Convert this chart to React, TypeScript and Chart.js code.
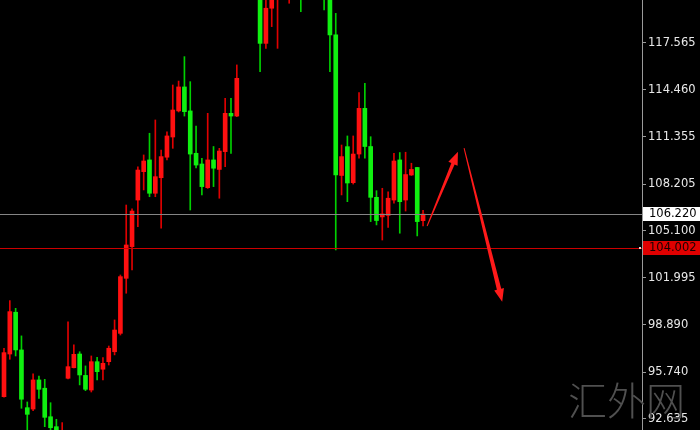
import React, { useEffect, useRef } from 'react';
import { Chart, registerables } from 'chart.js';

Chart.register(...registerables);

// OHLC per candle, oldest first (red = rising, green = falling)
const opens = [
  94.11, 96.94, 99.71, 97.21, 93.38, 93.29, 95.22, 94.67, 92.78, 92.12,
  90.91, 95.33, 96.03, 96.94, 95.52, 94.55, 96.43, 95.93, 96.43, 97.09,
  98.31, 101.96, 104.06, 107.15, 109.03, 109.81, 107.6, 108.63, 109.99, 111.33,
  113.06, 114.65, 113.06, 110.25, 109.54, 107.97, 109.81, 109.18, 110.36, 112.9,
  112.72, 120.8, 122.3, 122.9, 121.0, 117.54, 119.87, 120.7, 121.8, 120.9,
  122.0, 121.6, 120.7, 121.5, 120.9, 121.2, 120.6, 118.1, 108.78, 110.69,
  108.3, 110.2, 113.23, 110.7, 107.33, 106.03, 106.13, 107.15, 109.81, 107.15,
  108.81, 109.31, 105.78,
];
const highs = [
  97.32, 100.48, 99.97, 98.14, 93.76, 95.62, 95.48, 95.26, 93.71, 92.61,
  92.39, 99.08, 97.54, 97.09, 96.15, 96.81, 96.72, 96.71, 97.47, 99.2,
  102.18, 106.82, 106.56, 109.36, 110.14, 111.58, 112.46, 110.47, 111.68, 114.78,
  115.04, 116.66, 115.0, 112.06, 109.92, 112.9, 110.7, 110.58, 113.9, 113.9,
  116.11, 122.6, 123.4, 123.2, 121.5, 120.8, 121.4, 122.3, 122.8, 122.6,
  122.5, 122.0, 121.9, 121.8, 121.4, 121.6, 120.9, 119.53, 110.8, 111.4,
  111.4, 114.27, 114.89, 111.35, 107.77, 107.93, 107.7, 110.25, 110.3, 110.32,
  109.59, 109.32, 106.46,
];
const lows = [
  94.07, 96.59, 96.81, 93.34, 91.77, 93.18, 94.0, 92.12, 91.77, 90.84,
  90.71, 95.28, 96.01, 94.89, 94.51, 94.42, 95.22, 95.22, 96.21, 96.88,
  98.2, 100.97, 102.51, 105.38, 107.82, 107.37, 107.37, 105.28, 109.81, 110.58,
  112.99, 112.72, 106.49, 109.28, 107.49, 107.92, 108.04, 107.27, 109.36, 110.25,
  112.68, 120.6, 121.5, 121.2, 115.66, 117.21, 118.65, 117.21, 120.9, 120.2,
  120.8, 119.64, 120.5, 120.6, 120.55, 119.75, 115.66, 103.84, 107.49, 107.04,
  108.21, 109.92, 109.92, 105.72, 105.5, 104.5, 105.33, 106.95, 104.95, 106.42,
  108.78, 104.77, 105.43,
];
const closes = [
  97.03, 99.75, 97.21, 93.94, 92.94, 95.22, 94.6, 92.74, 92.05, 91.24,
  91.7, 96.1, 96.92, 95.55, 94.6, 96.43, 95.77, 96.32, 97.32, 98.53,
  102.07, 104.17, 106.42, 109.14, 109.74, 107.6, 108.7, 110.03, 111.4, 113.12,
  114.65, 113.01, 110.2, 109.47, 108.04, 109.81, 109.26, 110.4, 112.9, 112.72,
  115.22, 122.3, 122.9, 121.6, 117.54, 119.87, 120.9, 121.8, 122.4, 122.0,
  121.2, 120.7, 121.5, 120.9, 121.2, 120.6, 118.1, 108.81, 110.03, 108.28,
  110.2, 113.23, 110.7, 107.33, 105.79, 106.23, 107.27, 109.74, 107.04, 108.84,
  109.18, 105.72, 106.22,
];

// price axis labels
const priceTicks = [92.635, 95.74, 98.89, 101.995, 105.1, 108.205, 111.355, 114.46, 117.565];
const bidPrice = 106.22;
const levelPrice = 104.002;
const watermark = '汇外网';

// hand-drawn projection arrows, in (candle index, price)
const arrowFrom = [
  [72.7, 105.43],
  [79.05, 110.6],
];
const arrowTo = [
  [78.0, 110.35],
  [85.6, 100.4],
];

const Y_MIN = 91.9;
const Y_MAX = 120.416;
const X_MIN = -0.687;
const X_MAX = 109.62;
const AXIS_WIDTH = 58;

const UP = '#ff1010';
const DOWN = '#10f010';

const fmt = (v: number) => v.toFixed(3);

function drawArrow(
  ctx: CanvasRenderingContext2D,
  x0: number, y0: number, x1: number, y1: number,
  tailW: number, shaftW: number, headLen: number, headW: number,
) {
  const dx = x1 - x0;
  const dy = y1 - y0;
  const len = Math.hypot(dx, dy);
  const ux = dx / len;
  const uy = dy / len;
  const nx = -uy;
  const ny = ux;
  const bx = x1 - ux * headLen;
  const by = y1 - uy * headLen;
  ctx.beginPath();
  ctx.moveTo(x0 + nx * tailW / 2, y0 + ny * tailW / 2);
  ctx.lineTo(bx + nx * shaftW / 2, by + ny * shaftW / 2);
  ctx.lineTo(bx + nx * headW / 2, by + ny * headW / 2);
  ctx.lineTo(x1, y1);
  ctx.lineTo(bx - nx * headW / 2, by - ny * headW / 2);
  ctx.lineTo(bx - nx * shaftW / 2, by - ny * shaftW / 2);
  ctx.lineTo(x0 - nx * tailW / 2, y0 - ny * tailW / 2);
  ctx.closePath();
  ctx.fill();
}

const overlay = {
  id: 'overlay',
  beforeDraw(chart: any) {
    const { ctx, width, height } = chart;
    ctx.save();
    ctx.fillStyle = '#000000';
    ctx.fillRect(0, 0, width, height);
    ctx.restore();
  },
  afterDatasetsDraw(chart: any) {
    const { ctx, chartArea, scales } = chart;
    const xs = scales.x;
    const ys = scales.y;

    ctx.save();
    // watermark
    ctx.font = '300 39px "Noto Sans CJK SC"';
    ctx.fillStyle = '#505050';
    ctx.textAlign = 'left';
    ctx.textBaseline = 'middle';
    ctx.fillText(watermark, chartArea.right - 74, chartArea.bottom - 30);

    // bid line
    const yb = Math.round(ys.getPixelForValue(bidPrice)) + 0.5;
    ctx.strokeStyle = '#858585';
    ctx.lineWidth = 1;
    ctx.beginPath();
    ctx.moveTo(chartArea.left, yb);
    ctx.lineTo(chartArea.right, yb);
    ctx.stroke();

    // level line
    const yl = Math.round(ys.getPixelForValue(levelPrice)) + 0.5;
    ctx.strokeStyle = '#cc0000';
    ctx.beginPath();
    ctx.moveTo(chartArea.left, yl);
    ctx.lineTo(chartArea.right, yl);
    ctx.stroke();
    ctx.fillStyle = '#ffd8d8';
    ctx.fillRect(chartArea.right - 3, yl - 1.5, 2, 2);

    // arrows
    ctx.fillStyle = '#ff1a1a';
    arrowFrom.forEach((from, i) => {
      const to = arrowTo[i];
      drawArrow(
        ctx,
        xs.getPixelForValue(from[0]), ys.getPixelForValue(from[1]),
        xs.getPixelForValue(to[0]), ys.getPixelForValue(to[1]),
        1, i === 0 ? 3.5 : 4.5, 13, 10,
      );
    });
    ctx.restore();
  },
  afterDraw(chart: any) {
    const { ctx, chartArea, scales, width } = chart;
    const ys = scales.y;
    ctx.save();
    ctx.font = '11.5px "DejaVu Sans"';
    ctx.textAlign = 'left';
    ctx.textBaseline = 'middle';
    const boxes = [
      { v: bidPrice, bg: '#ffffff', fg: '#000000' },
      { v: levelPrice, bg: '#e00000', fg: '#1a0000' },
    ];
    boxes.forEach((b) => {
      const y = Math.round(ys.getPixelForValue(b.v));
      ctx.fillStyle = b.bg;
      ctx.fillRect(chartArea.right + 1, y - 7, width - chartArea.right - 1, 14);
      ctx.fillStyle = b.fg;
      ctx.fillText(fmt(b.v), chartArea.right + 7, y + 0.5);
    });
    ctx.restore();
  },
};

export default function App() {
  const ref = useRef<HTMLCanvasElement>(null);

  useEffect(() => {
    const colors = closes.map((c, i) => (c >= opens[i] ? UP : DOWN));
    const wickColors = closes.map((c, i) => (c >= opens[i] ? '#e00000' : '#00d000'));
    const chart = new Chart(ref.current as HTMLCanvasElement, {
      type: 'bar',
      data: {
        datasets: [
          {
            label: 'wick',
            data: lows.map((l, i) => ({ x: i, y: [l, highs[i]] })) as any,
            backgroundColor: wickColors,
            barThickness: 1,
            grouped: false,
            borderWidth: 0,
            clip: 0,
            order: 2,
          } as any,
          {
            label: 'body',
            data: opens.map((o, i) => ({ x: i, y: [o, closes[i]] })) as any,
            backgroundColor: colors,
            barThickness: 4,
            grouped: false,
            borderWidth: 0,
            minBarLength: 1,
            clip: 0,
            order: 1,
          } as any,
        ],
      },
      options: {
        animation: false,
        responsive: false,
        maintainAspectRatio: false,
        events: [],
        layout: { padding: 0, autoPadding: false } as any,
        plugins: {
          legend: { display: false },
          tooltip: { enabled: false },
        },
        scales: {
          x: {
            type: 'linear',
            min: X_MIN,
            max: X_MAX,
            offset: false,
            display: false,
          },
          y: {
            type: 'linear',
            position: 'right',
            min: Y_MIN,
            max: Y_MAX,
            afterBuildTicks: (s: any) => {
              s.ticks = priceTicks.map((v) => ({ value: v }));
            },
            afterFit: (s: any) => {
              s.width = AXIS_WIDTH;
              s.paddingTop = 0;
              s.paddingBottom = 0;
            },
            grid: {
              display: true,
              drawOnChartArea: false,
              drawTicks: true,
              tickLength: 4,
              color: '#9a9a9a',
            },
            border: { display: true, color: '#9a9a9a', width: 1 },
            ticks: {
              color: '#e8e8e8',
              font: { family: 'DejaVu Sans', size: 11.5 },
              padding: 2,
              autoSkip: false,
              callback: (v: any) => fmt(Number(v)),
            },
          },
        },
      },
      plugins: [overlay],
    });
    return () => chart.destroy();
  }, []);

  return (
    <div style={{ position: 'fixed', left: 0, top: 0, width: 700, height: 430, background: '#000' }}>
      <canvas ref={ref} width={700} height={430} style={{ display: 'block', width: 700, height: 430 }} />
    </div>
  );
}
